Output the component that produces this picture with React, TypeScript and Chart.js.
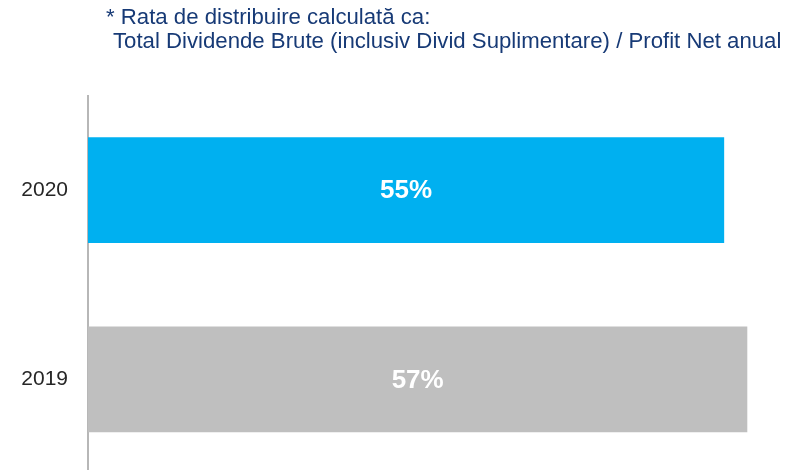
import React, { useEffect, useRef } from "react";
import { Chart, registerables } from "chart.js";

Chart.register(...registerables);

const categories = ["2020", "2019"];
const payoutRatio = [55, 57];
const valueLabels = ["55%", "57%"];
const barColors = ["#00B0F0", "#BFBFBF"];
const noteLines = [
  "* Rata de distribuire calculată ca:",
  "Total Dividende Brute (inclusiv Divid Suplimentare) / Profit Net anual",
];

const FONT = "Arial, 'Liberation Sans', sans-serif";

const valueLabelPlugin = {
  id: "valueLabels",
  afterDatasetsDraw(chart: any) {
    const ctx = chart.ctx;
    const meta = chart.getDatasetMeta(0);
    ctx.save();
    ctx.font = `bold 26px ${FONT}`;
    ctx.fillStyle = "#FFFFFF";
    ctx.textAlign = "center";
    ctx.textBaseline = "middle";
    meta.data.forEach((bar: any, i: number) => {
      const p = bar.getProps(["x", "y", "base"], true);
      ctx.fillText(valueLabels[i], (p.x + p.base) / 2, p.y + 1);
    });
    ctx.restore();
  },
};

export default function App() {
  const ref = useRef<HTMLCanvasElement | null>(null);

  useEffect(() => {
    if (!ref.current) return;
    const chart = new Chart(ref.current, {
      type: "bar",
      data: {
        labels: categories,
        datasets: [
          {
            data: payoutRatio,
            backgroundColor: barColors,
            borderWidth: 0,
            categoryPercentage: 1,
            barPercentage: 0.56,
          },
        ],
      },
      options: {
        indexAxis: "y",
        animation: false,
        responsive: false,
        maintainAspectRatio: false,
        layout: { padding: { top: 95.5, right: 11, left: 0, bottom: 0 } },
        plugins: {
          legend: { display: false },
          tooltip: { enabled: false },
          title: { display: false },
        },
        scales: {
          x: { display: false, min: 0, max: 60 },
          y: {
            grid: { display: true, color: "rgba(0,0,0,0)", drawTicks: false },
            border: { display: true, color: "#B7B7B7", width: 2 },
            ticks: {
              color: "#262626",
              padding: 20,
              font: { family: FONT, size: 21 },
            },
            afterFit(scale: any) {
              scale.width = 88;
              scale.paddingTop = 0;
              scale.paddingBottom = 0;
            },
          },
        },
      },
      plugins: [valueLabelPlugin],
    });
    return () => chart.destroy();
  }, []);

  return (
    <div style={{ position: "fixed", left: 0, top: 0, width: 793, height: 474, background: "#fff" }}>
      <canvas ref={ref} width={793} height={474} style={{ position: "absolute", left: 0, top: 0 }} />
      <div
        style={{
          position: "absolute",
          left: 106,
          top: 5,
          fontFamily: FONT,
          fontSize: 22.2,
          lineHeight: "24px",
          color: "#173A76",
          whiteSpace: "pre",
        }}
      >
        <div>{noteLines[0]}</div>
        <div style={{ paddingLeft: 7 }}>{noteLines[1]}</div>
      </div>
    </div>
  );
}
